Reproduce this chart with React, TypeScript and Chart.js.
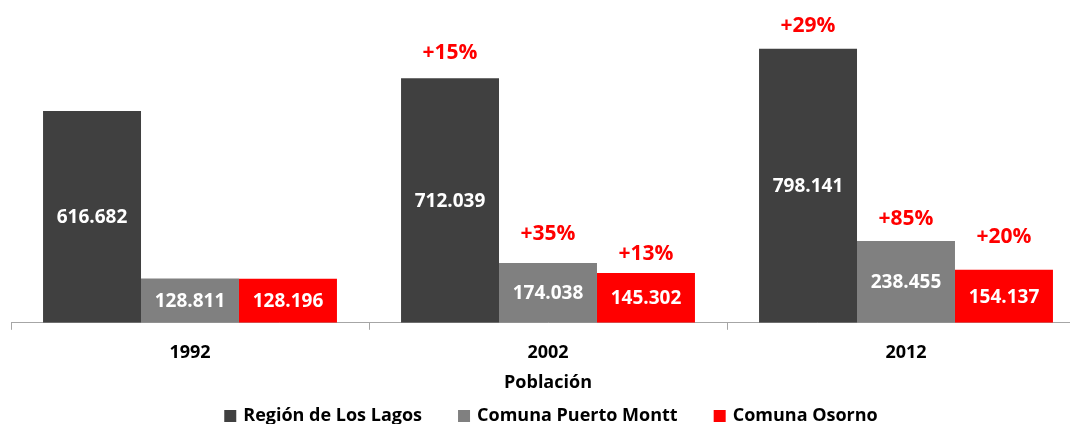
import React, { useEffect, useRef } from "react";
import { Chart, registerables } from "chart.js";

Chart.register(...registerables);

const categories = ["1992", "2002", "2012"];
const seriesNames = ["Región de Los Lagos", "Comuna Puerto Montt", "Comuna Osorno"];
const regionValues = [616682, 712039, 798141];
const puertoMonttValues = [128811, 174038, 238455];
const osornoValues = [128196, 145302, 154137];
const regionGrowth = ["", "+15%", "+29%"];
const puertoMonttGrowth = ["", "+35%", "+85%"];
const osornoGrowth = ["", "+13%", "+20%"];
const axisTitle = "Población";

const colors = ["#404040", "#808080", "#FF0000"];
// vertical gap (px) between bar top and the centre of each growth label
const growthGaps = [
  [0, 25, 23],
  [0, 29, 22],
  [0, 19, 33],
];

const FONT = "'Open Sans', sans-serif";

const fmt = (v: number) => String(v).replace(/\B(?=(\d{3})+(?!\d))/g, ".");

const labelPlugin = {
  id: "barLabels",
  afterDatasetsDraw(chart: any) {
    const ctx = chart.ctx;
    const growth = [regionGrowth, puertoMonttGrowth, osornoGrowth];
    ctx.save();
    ctx.textAlign = "center";
    ctx.textBaseline = "middle";
    chart.data.datasets.forEach((ds: any, di: number) => {
      const meta = chart.getDatasetMeta(di);
      meta.data.forEach((bar: any, i: number) => {
        const v = ds.data[i];
        ctx.font = `bold 19px ${FONT}`;
        ctx.fillStyle = "#FFFFFF";
        ctx.fillText(fmt(v), bar.x, (bar.y + bar.base) / 2 + 1);
        const g = growth[di][i];
        if (g) {
          ctx.fillStyle = "#FF0000";
          ctx.font = `bold 21px ${FONT}`;
          ctx.fillText(g, bar.x, bar.y - growthGaps[di][i]);
        }
      });
    });
    ctx.restore();
  },
  afterDraw(chart: any) {
    // legend
    const ctx = chart.ctx;
    ctx.save();
    ctx.font = `bold 18px ${FONT}`;
    ctx.textBaseline = "middle";
    ctx.textAlign = "left";
    const box = 12;
    const gapText = 7;
    const gapItem = 36;
    const widths = seriesNames.map((n) => ctx.measureText(n).width);
    const total =
      widths.reduce((a, w) => a + box + gapText + w, 0) + gapItem * (seriesNames.length - 1);
    let x = chart.width / 2 - total / 2 + 1;
    const cy = 416;
    seriesNames.forEach((n, i) => {
      ctx.fillStyle = colors[i];
      ctx.fillRect(x, cy - 6, box, box);
      x += box + gapText;
      ctx.fillStyle = "#000000";
      ctx.fillText(n, x, cy);
      x += widths[i] + gapItem;
    });
    ctx.restore();
  },
};

export default function App() {
  const ref = useRef<HTMLCanvasElement | null>(null);
  useEffect(() => {
    if (!ref.current) return;
    const chart = new Chart(ref.current, {
      type: "bar",
      data: {
        labels: categories,
        datasets: [
          { label: seriesNames[0], data: regionValues, backgroundColor: colors[0] },
          { label: seriesNames[1], data: puertoMonttValues, backgroundColor: colors[1] },
          { label: seriesNames[2], data: osornoValues, backgroundColor: colors[2] },
        ],
      },
      options: {
        animation: false,
        responsive: true,
        maintainAspectRatio: false,
        layout: { padding: { left: 11, right: 15, top: 0, bottom: 30 } },
        datasets: {
          bar: { barPercentage: 1, categoryPercentage: 0.821 },
        },
        scales: {
          x: {
            grid: {
              offset: true,
              drawOnChartArea: false,
              drawTicks: true,
              tickLength: 7,
              color: "#A6A6A6",
            },
            border: { display: true, color: "#A6A6A6", width: 1 },
            ticks: {
              color: "#000000",
              font: { family: FONT, size: 18, weight: "bold" },
              padding: 12,
            },
            title: {
              display: true,
              text: axisTitle,
              color: "#000000",
              font: { family: FONT, size: 18, weight: "bold" },
              padding: { top: -3, bottom: 0 },
            },
          },
          y: {
            display: false,
            min: 0,
            max: 940000,
          },
        },
        plugins: {
          legend: { display: false },
          tooltip: { enabled: false },
        },
      },
      plugins: [labelPlugin],
    });
    return () => chart.destroy();
  }, []);

  return (
    <div
      style={{
        position: "absolute",
        left: 0,
        top: 0,
        width: 1070,
        height: 424,
        overflow: "hidden",
        background: "#FFFFFF",
      }}
    >
      <div style={{ position: "relative", width: 1100, height: 424 }}>
        <canvas ref={ref} />
      </div>
    </div>
  );
}
